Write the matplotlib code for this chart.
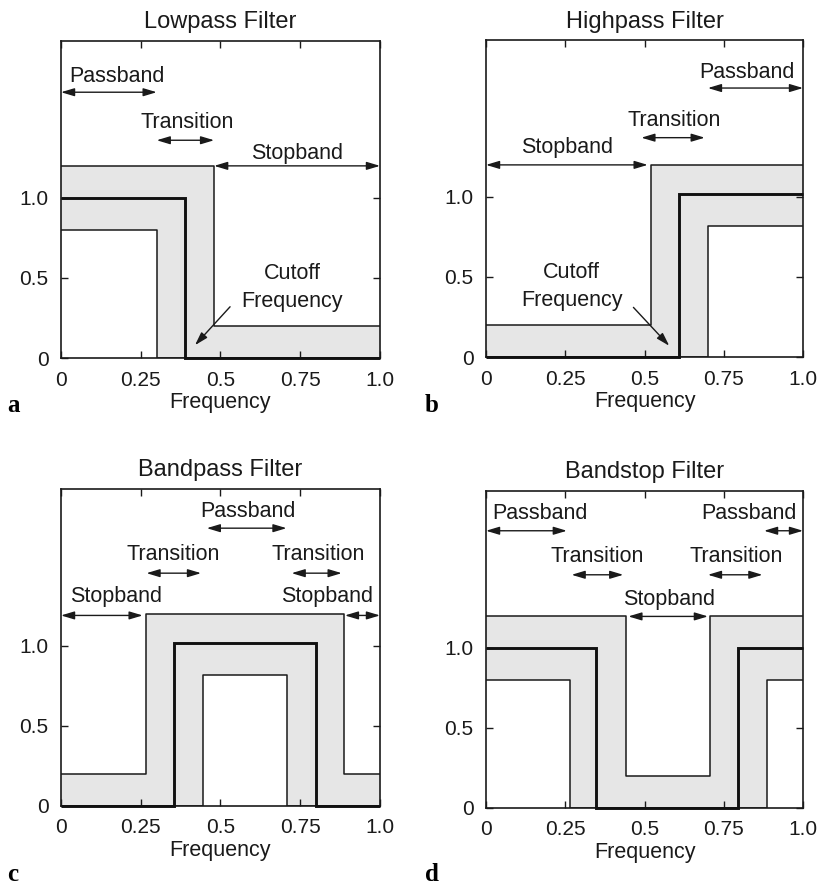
import matplotlib
matplotlib.use('Agg')
import matplotlib.pyplot as plt

plt.rcParams['font.family'] = ['Liberation Sans', 'DejaVu Sans']

# ---- tolerance bands (upper edge, nominal response, lower edge) ----
# a) lowpass
lp_upper_x = [0, 0.48, 0.48, 1.0]
lp_upper_y = [1.2, 1.2, 0.2, 0.2]
lp_mid_x = [0, 0.39, 0.39, 1.0]
lp_mid_y = [1.0, 1.0, 0, 0]
lp_lower_x = [0, 0.30, 0.30, 1.0]
lp_lower_y = [0.8, 0.8, 0, 0]

# b) highpass
hp_upper_x = [0, 0.52, 0.52, 1.0]
hp_upper_y = [0.2, 0.2, 1.2, 1.2]
hp_mid_x = [0, 0.61, 0.61, 1.0]
hp_mid_y = [0, 0, 1.02, 1.02]
hp_lower_x = [0, 0.70, 0.70, 1.0]
hp_lower_y = [0, 0, 0.82, 0.82]

# c) bandpass
bp_upper_x = [0, 0.265, 0.265, 0.888, 0.888, 1.0]
bp_upper_y = [0.2, 0.2, 1.2, 1.2, 0.2, 0.2]
bp_mid_x = [0, 0.353, 0.353, 0.80, 0.80, 1.0]
bp_mid_y = [0, 0, 1.02, 1.02, 0, 0]
bp_lower_x = [0, 0.445, 0.445, 0.71, 0.71, 1.0]
bp_lower_y = [0, 0, 0.82, 0.82, 0, 0]

# d) bandstop
bs_upper_x = [0, 0.443, 0.443, 0.707, 0.707, 1.0]
bs_upper_y = [1.2, 1.2, 0.2, 0.2, 1.2, 1.2]
bs_mid_x = [0, 0.346, 0.346, 0.795, 0.795, 1.0]
bs_mid_y = [1.0, 1.0, 0, 0, 1.0, 1.0]
bs_lower_x = [0, 0.265, 0.265, 0.885, 0.885, 1.0]
bs_lower_y = [0.8, 0.8, 0, 0, 0.8, 0.8]

# ---- band labels: text, text x, text y, arrow x0, arrow x1, arrow y ----
lp_labels = [('Passband', 0.175, 1.76, 0.0, 0.30, 1.66),
             ('Transition', 0.395, 1.47, 0.30, 0.48, 1.36),
             ('Stopband', 0.74, 1.28, 0.48, 1.0, 1.2)]
hp_labels = [('Passband', 0.823, 1.78, 0.70, 1.0, 1.68),
             ('Transition', 0.593, 1.48, 0.49, 0.69, 1.37),
             ('Stopband', 0.255, 1.31, 0.0, 0.51, 1.2)]
bp_labels = [('Passband', 0.585, 1.84, 0.457, 0.707, 1.735),
             ('Transition', 0.352, 1.57, 0.268, 0.439, 1.454),
             ('Transition', 0.806, 1.57, 0.723, 0.88, 1.454),
             ('Stopband', 0.172, 1.306, 0.0, 0.256, 1.19),
             ('Stopband', 0.834, 1.306, 0.89, 1.0, 1.19)]
bs_labels = [('Passband', 0.17, 1.84, 0.0, 0.255, 1.73),
             ('Passband', 0.828, 1.84, 0.877, 1.0, 1.73),
             ('Transition', 0.35, 1.57, 0.27, 0.433, 1.455),
             ('Transition', 0.79, 1.57, 0.70, 0.872, 1.455),
             ('Stopband', 0.577, 1.30, 0.449, 0.70, 1.195)]

# cutoff note: text x, text y, arrow start x, y, tip x, y
lp_cutoff = (0.725, 0.44, 0.53, 0.32, 0.42, 0.08)
hp_cutoff = (0.27, 0.44, 0.465, 0.31, 0.578, 0.07)

titles = ['Lowpass Filter', 'Highpass Filter', 'Bandpass Filter', 'Bandstop Filter']
letters = ['a', 'b', 'c', 'd']
xticks = [0, 0.25, 0.5, 0.75, 1.0]
xticklabels = ['0', '0.25', '0.5', '0.75', '1.0']
yticks = [0, 0.5, 1.0]
yticklabels = ['0', '0.5', '1.0']

panels = [
    (lp_upper_x, lp_upper_y, lp_mid_x, lp_mid_y, lp_lower_x, lp_lower_y, lp_labels, lp_cutoff),
    (hp_upper_x, hp_upper_y, hp_mid_x, hp_mid_y, hp_lower_x, hp_lower_y, hp_labels, hp_cutoff),
    (bp_upper_x, bp_upper_y, bp_mid_x, bp_mid_y, bp_lower_x, bp_lower_y, bp_labels, None),
    (bs_upper_x, bs_upper_y, bs_mid_x, bs_mid_y, bs_lower_x, bs_lower_y, bs_labels, None),
]

# axes rectangles in figure fraction
positions = [[0.0744, 0.5973, 0.389, 0.3566],
             [0.5927, 0.5984, 0.3866, 0.3566],
             [0.0744, 0.0934, 0.389, 0.3566],
             [0.5927, 0.0914, 0.3866, 0.3566]]
letter_pos = [(0.009, 0.537), (0.518, 0.537), (0.009, 0.009), (0.518, 0.009)]

fig = plt.figure(figsize=(8.2, 8.89), dpi=100)

arrow2 = dict(arrowstyle='<|-|>,head_length=0.8,head_width=0.24', color='#1a1a1a',
              lw=1.0, shrinkA=0, shrinkB=0)
arrow1 = dict(arrowstyle='-|>,head_length=0.8,head_width=0.24', color='#1a1a1a',
              lw=1.0, shrinkA=0, shrinkB=0)

for i, (ux, uy, mx, my, lx, ly, labels, cutoff) in enumerate(panels):
    ax = fig.add_axes(positions[i])
    # shaded tolerance band
    ax.fill(list(ux) + list(lx[::-1]), list(uy) + list(ly[::-1]),
            color='#e6e6e6', lw=0, zorder=1)
    ax.plot(ux, uy, color='#1a1a1a', lw=1.1, zorder=2)
    ax.plot(lx, ly, color='#1a1a1a', lw=1.1, zorder=2)
    ax.plot(mx, my, color='#111111', lw=2.1, zorder=3, clip_on=False,
            solid_joinstyle='miter', solid_capstyle='butt')

    for txt, tx, ty, x0, x1, ya in labels:
        ax.text(tx, ty, txt, ha='center', va='center', fontsize=15.5, color='#1a1a1a')
        ax.annotate('', xy=(x1, ya), xytext=(x0, ya), arrowprops=arrow2)

    if cutoff is not None:
        tx, ty, sx, sy, ex, ey = cutoff
        ax.text(tx, ty, 'Cutoff\nFrequency', ha='center', va='center', fontsize=15.5,
                color='#1a1a1a', linespacing=1.4)
        ax.annotate('', xy=(ex, ey), xytext=(sx, sy), arrowprops=arrow1)

    ax.set_xlim(0, 1.0)
    ax.set_ylim(0, 1.98)
    ax.set_xticks(xticks)
    ax.set_xticklabels(xticklabels)
    ax.set_yticks(yticks)
    ax.set_yticklabels(yticklabels)
    ax.tick_params(direction='in', top=True, right=True, length=5, width=1.0,
                   labelsize=15, colors='#1a1a1a', pad=9)
    for s in ax.spines.values():
        s.set_linewidth(1.2)
        s.set_color('#1a1a1a')
    ax.set_title(titles[i], fontsize=17, pad=9, color='#1a1a1a')
    ax.set_xlabel('Frequency', fontsize=15.5, labelpad=2, color='#1a1a1a')

    fig.text(letter_pos[i][0], letter_pos[i][1], letters[i], fontsize=18,
             fontweight='bold', family='Liberation Serif', va='baseline')

plt.savefig('out.png', dpi=100)
